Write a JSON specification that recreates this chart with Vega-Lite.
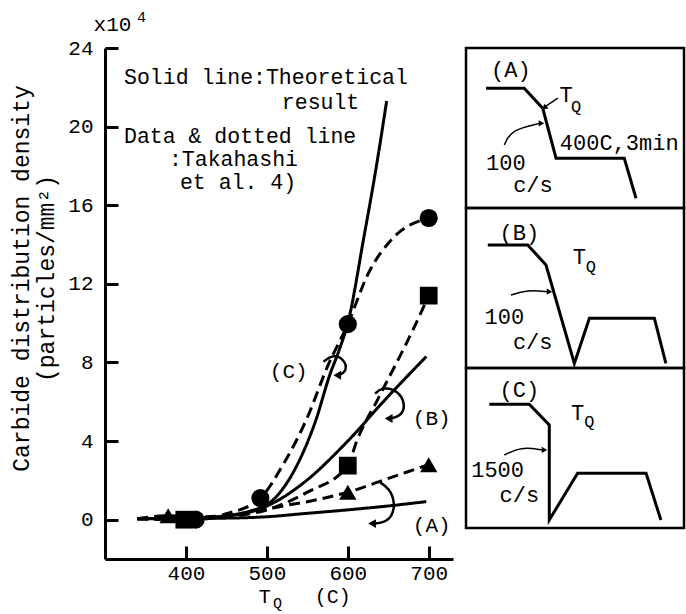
{
  "$schema": "https://vega.github.io/schema/vega-lite/v6.json",
  "background": "white",
  "padding": {"left": 10, "top": 10, "right": 0, "bottom": 0},
  "autosize": {"type": "pad"},
  "config": {
    "view": {"stroke": null},
    "font": "Liberation Mono",
    "text": {"font": "Liberation Mono", "color": "black"}
  },
  "datasets": {
    "curves": [
      {"series": "Theory C", "kind": "Theoretical", "T": 340, "N": 0.05},
      {"series": "Theory C", "kind": "Theoretical", "T": 420, "N": 0.1},
      {"series": "Theory C", "kind": "Theoretical", "T": 480, "N": 0.45},
      {"series": "Theory C", "kind": "Theoretical", "T": 510, "N": 1.1},
      {"series": "Theory C", "kind": "Theoretical", "T": 540, "N": 3.0},
      {"series": "Theory C", "kind": "Theoretical", "T": 560, "N": 5.0},
      {"series": "Theory C", "kind": "Theoretical", "T": 578, "N": 7.4},
      {"series": "Theory C", "kind": "Theoretical", "T": 590, "N": 8.7},
      {"series": "Theory C", "kind": "Theoretical", "T": 600, "N": 10.0},
      {"series": "Theory C", "kind": "Theoretical", "T": 620, "N": 14.4},
      {"series": "Theory C", "kind": "Theoretical", "T": 635, "N": 17.9},
      {"series": "Theory C", "kind": "Theoretical", "T": 648, "N": 21.3},
      {"series": "Theory B", "kind": "Theoretical", "T": 340, "N": 0.05},
      {"series": "Theory B", "kind": "Theoretical", "T": 420, "N": 0.1},
      {"series": "Theory B", "kind": "Theoretical", "T": 480, "N": 0.4},
      {"series": "Theory B", "kind": "Theoretical", "T": 510, "N": 0.9},
      {"series": "Theory B", "kind": "Theoretical", "T": 543, "N": 1.8},
      {"series": "Theory B", "kind": "Theoretical", "T": 600, "N": 4.0},
      {"series": "Theory B", "kind": "Theoretical", "T": 646, "N": 6.1},
      {"series": "Theory B", "kind": "Theoretical", "T": 697, "N": 8.3},
      {"series": "Theory A", "kind": "Theoretical", "T": 340, "N": 0.05},
      {"series": "Theory A", "kind": "Theoretical", "T": 450, "N": 0.08},
      {"series": "Theory A", "kind": "Theoretical", "T": 500, "N": 0.15},
      {"series": "Theory A", "kind": "Theoretical", "T": 543, "N": 0.3},
      {"series": "Theory A", "kind": "Theoretical", "T": 600, "N": 0.5},
      {"series": "Theory A", "kind": "Theoretical", "T": 650, "N": 0.7},
      {"series": "Theory A", "kind": "Theoretical", "T": 697, "N": 0.92},
      {"series": "Data C", "kind": "Takahashi et al.", "T": 340, "N": 0.05},
      {"series": "Data C", "kind": "Takahashi et al.", "T": 412, "N": 0.0},
      {"series": "Data C", "kind": "Takahashi et al.", "T": 450, "N": 0.3},
      {"series": "Data C", "kind": "Takahashi et al.", "T": 492, "N": 1.1},
      {"series": "Data C", "kind": "Takahashi et al.", "T": 520, "N": 2.8},
      {"series": "Data C", "kind": "Takahashi et al.", "T": 550, "N": 5.2},
      {"series": "Data C", "kind": "Takahashi et al.", "T": 575, "N": 7.8},
      {"series": "Data C", "kind": "Takahashi et al.", "T": 600, "N": 9.95},
      {"series": "Data C", "kind": "Takahashi et al.", "T": 625, "N": 12.5},
      {"series": "Data C", "kind": "Takahashi et al.", "T": 655, "N": 14.3},
      {"series": "Data C", "kind": "Takahashi et al.", "T": 700, "N": 15.35},
      {"series": "Data B", "kind": "Takahashi et al.", "T": 340, "N": 0.05},
      {"series": "Data B", "kind": "Takahashi et al.", "T": 398, "N": 0.0},
      {"series": "Data B", "kind": "Takahashi et al.", "T": 450, "N": 0.15},
      {"series": "Data B", "kind": "Takahashi et al.", "T": 500, "N": 0.5},
      {"series": "Data B", "kind": "Takahashi et al.", "T": 550, "N": 1.4},
      {"series": "Data B", "kind": "Takahashi et al.", "T": 600, "N": 2.75},
      {"series": "Data B", "kind": "Takahashi et al.", "T": 611, "N": 4.0},
      {"series": "Data B", "kind": "Takahashi et al.", "T": 638, "N": 6.2},
      {"series": "Data B", "kind": "Takahashi et al.", "T": 681, "N": 9.7},
      {"series": "Data B", "kind": "Takahashi et al.", "T": 700, "N": 11.4},
      {"series": "Data A", "kind": "Takahashi et al.", "T": 340, "N": 0.05},
      {"series": "Data A", "kind": "Takahashi et al.", "T": 378, "N": 0.2},
      {"series": "Data A", "kind": "Takahashi et al.", "T": 420, "N": 0.15},
      {"series": "Data A", "kind": "Takahashi et al.", "T": 470, "N": 0.3},
      {"series": "Data A", "kind": "Takahashi et al.", "T": 520, "N": 0.7},
      {"series": "Data A", "kind": "Takahashi et al.", "T": 560, "N": 1.0},
      {"series": "Data A", "kind": "Takahashi et al.", "T": 600, "N": 1.4},
      {"series": "Data A", "kind": "Takahashi et al.", "T": 650, "N": 2.1},
      {"series": "Data A", "kind": "Takahashi et al.", "T": 700, "N": 2.8}
    ],
    "points": [
      {"cond": "A", "T": 378, "N": 0.2},
      {"cond": "A", "T": 600, "N": 1.4},
      {"cond": "A", "T": 700, "N": 2.8},
      {"cond": "B", "T": 398, "N": 0.0},
      {"cond": "B", "T": 600, "N": 2.75},
      {"cond": "B", "T": 700, "N": 11.4},
      {"cond": "C", "T": 412, "N": 0.0},
      {"cond": "C", "T": 492, "N": 1.1},
      {"cond": "C", "T": 600, "N": 9.95},
      {"cond": "C", "T": 700, "N": 15.35}
    ],
    "curls": [
      {"curl": "C", "i": 1, "T": 570, "N": 8.03},
      {"curl": "C", "i": 2, "T": 580.2, "N": 8.4},
      {"curl": "C", "i": 3, "T": 595.5, "N": 8.2},
      {"curl": "C", "i": 4, "T": 599.5, "N": 7.55},
      {"curl": "C", "i": 5, "T": 588.5, "N": 7.35},
      {"curl": "B", "i": 1, "T": 633.7, "N": 6.41},
      {"curl": "B", "i": 2, "T": 642, "N": 6.75},
      {"curl": "B", "i": 3, "T": 662, "N": 6.6},
      {"curl": "B", "i": 4, "T": 672, "N": 5.81},
      {"curl": "B", "i": 5, "T": 665, "N": 5.25},
      {"curl": "B", "i": 6, "T": 652.2, "N": 5.15},
      {"curl": "A", "i": 1, "T": 639.9, "N": 1.9},
      {"curl": "A", "i": 2, "T": 651, "N": 1.6},
      {"curl": "A", "i": 3, "T": 658.5, "N": 0.9},
      {"curl": "A", "i": 4, "T": 655, "N": 0.15},
      {"curl": "A", "i": 5, "T": 644.1, "N": -0.15},
      {"curl": "A", "i": 6, "T": 631.7, "N": -0.2}
    ],
    "curlTips": [
      {"curl": "C", "T": 587, "N": 7.35},
      {"curl": "B", "T": 650.5, "N": 5.15},
      {"curl": "A", "T": 630, "N": -0.2}
    ],
    "notes": [
      {"text": "Solid line:Theoretical", "T": 323.5, "N": 22.45},
      {"text": "result", "T": 518.5, "N": 21.2},
      {"text": "Data & dotted line", "T": 323.5, "N": 19.45},
      {"text": ":Takahashi", "T": 379, "N": 18.3},
      {"text": "et al. 4)", "T": 392.6, "N": 17.15}
    ],
    "caseLabels": [
      {"text": "(C)", "T": 527, "N": 7.52},
      {"text": "(B)", "T": 703.7, "N": 5.13},
      {"text": "(A)", "T": 703.7, "N": -0.3},
      {"text": "x10", "T": 309.3, "N": 25.17}
    ],
    "axisNames": [
      {"text": "T", "T": 497.5, "N": -3.95},
      {"text": "(C)", "T": 581.5, "N": -3.95}
    ],
    "smallLabels": [
      {"text": "4", "T": 345, "N": 25.57},
      {"text": "Q", "T": 513.0, "N": -4.25}
    ],
    "profiles": [
      {"panel": "A", "i": 1, "t": 9.2, "temp": 74.8},
      {"panel": "A", "i": 2, "t": 26.7, "temp": 74.8},
      {"panel": "A", "i": 3, "t": 35.2, "temp": 62.3},
      {"panel": "A", "i": 4, "t": 41.3, "temp": 31.1},
      {"panel": "A", "i": 5, "t": 72.6, "temp": 31.1},
      {"panel": "A", "i": 6, "t": 78.0, "temp": 6.1},
      {"panel": "B", "i": 1, "t": 10.0, "temp": 76.9},
      {"panel": "B", "i": 2, "t": 28.3, "temp": 76.9},
      {"panel": "B", "i": 3, "t": 36.7, "temp": 64.4},
      {"panel": "B", "i": 4, "t": 49.7, "temp": 2.9},
      {"panel": "B", "i": 5, "t": 56.6, "temp": 31.1},
      {"panel": "B", "i": 6, "t": 86.4, "temp": 31.1},
      {"panel": "B", "i": 7, "t": 91.7, "temp": 2.9},
      {"panel": "C", "i": 1, "t": 10.7, "temp": 77.3},
      {"panel": "C", "i": 2, "t": 29.0, "temp": 77.3},
      {"panel": "C", "i": 3, "t": 38.2, "temp": 64.4},
      {"panel": "C", "i": 4, "t": 38.2, "temp": 5.0},
      {"panel": "C", "i": 5, "t": 51.2, "temp": 34.2},
      {"panel": "C", "i": 6, "t": 82.6, "temp": 34.2},
      {"panel": "C", "i": 7, "t": 89.4, "temp": 5.0}
    ],
    "pointers": [
      {"panel": "A", "arrow": "rate", "i": 1, "t": 17.6, "temp": 39.4},
      {"panel": "A", "arrow": "rate", "i": 2, "t": 20.6, "temp": 48.8},
      {"panel": "A", "arrow": "rate", "i": 3, "t": 33.8, "temp": 52.9},
      {"panel": "A", "arrow": "tq", "i": 1, "t": 42.1, "temp": 68.6},
      {"panel": "A", "arrow": "tq", "i": 2, "t": 36.5, "temp": 63.5},
      {"panel": "B", "arrow": "rate", "i": 1, "t": 20.6, "temp": 45.6},
      {"panel": "B", "arrow": "rate", "i": 2, "t": 28.3, "temp": 48.8},
      {"panel": "B", "arrow": "rate", "i": 3, "t": 37.5, "temp": 47.7},
      {"panel": "C", "arrow": "rate", "i": 1, "t": 17.6, "temp": 45.6},
      {"panel": "C", "arrow": "rate", "i": 2, "t": 25.2, "temp": 50.8},
      {"panel": "C", "arrow": "rate", "i": 3, "t": 35.2, "temp": 48.8}
    ],
    "pointerTips": [
      {"panel": "A", "arrow": "rate", "t": 34.6, "temp": 52.9},
      {"panel": "B", "arrow": "rate", "t": 38.3, "temp": 47.7},
      {"panel": "C", "arrow": "rate", "t": 36.0, "temp": 48.8}
    ],
    "tqTips": [
      {"panel": "A", "t": 36.0, "temp": 62.6}
    ],
    "insetText": [
      {"panel": "A", "text": "(A)", "t": 20.6, "temp": 86.3},
      {"panel": "A", "text": "T", "t": 45.9, "temp": 70.6},
      {"panel": "A", "text": "400C,3min", "t": 70.3, "temp": 40.4},
      {"panel": "A", "text": "100", "t": 18.3, "temp": 27.9},
      {"panel": "A", "text": "c/s", "t": 30.7, "temp": 14.4},
      {"panel": "B", "text": "(B)", "t": 24.5, "temp": 84.2},
      {"panel": "B", "text": "T", "t": 52.0, "temp": 69.6},
      {"panel": "B", "text": "100", "t": 17.6, "temp": 32.1},
      {"panel": "B", "text": "c/s", "t": 30.6, "temp": 16.4},
      {"panel": "C", "text": "(C)", "t": 24.5, "temp": 86.3},
      {"panel": "C", "text": "T", "t": 51.2, "temp": 71.7},
      {"panel": "C", "text": "1500", "t": 14.5, "temp": 36.3},
      {"panel": "C", "text": "c/s", "t": 24.5, "temp": 20.6}
    ],
    "insetSub": [
      {"panel": "A", "text": "Q", "t": 50.5, "temp": 63.3},
      {"panel": "B", "text": "Q", "t": 57.3, "temp": 63.3},
      {"panel": "C", "text": "Q", "t": 56.6, "temp": 66.4}
    ]
  },
  "hconcat": [
    {
      "width": 348,
      "height": 511,
      "encoding": {
        "x": {
          "field": "T", "type": "quantitative",
          "scale": {"domain": [300, 730], "nice": false, "zero": false},
          "axis": {
            "values": [400, 500, 600, 700], "title": null, "grid": false,
            "domainColor": "black", "domainWidth": 3, "tickColor": "black", "tickWidth": 3, "tickSize": -13,
            "labelFont": "Liberation Mono", "labelFontSize": 21, "labelColor": "black", "labelPadding": 16,
            "labelFlush": false, "labelOverlap": false
          }
        },
        "y": {
          "field": "N", "type": "quantitative",
          "scale": {"domain": [-2, 24], "nice": false, "zero": false},
          "axis": {
            "values": [0, 4, 8, 12, 16, 20, 24], "grid": false,
            "title": ["Carbide distribution density", "(particles/mm²)"],
            "titleFont": "Liberation Mono", "titleFontSize": 23, "titleFontWeight": "normal", "titleColor": "black",
            "titleLineHeight": 25, "titlePadding": 9, "titleY": 230,
            "domainColor": "black", "domainWidth": 3, "tickColor": "black", "tickWidth": 3, "tickSize": -13,
            "labelFont": "Liberation Mono", "labelFontSize": 21, "labelColor": "black", "labelPadding": 25,
            "labelFlush": false, "labelOverlap": false
          }
        }
      },
      "layer": [
        {
          "data": {"name": "curves"},
          "mark": {"type": "line", "interpolate": "monotone", "strokeWidth": 3, "color": "black"},
          "encoding": {
            "detail": {"field": "series"},
            "strokeDash": {"field": "kind", "type": "nominal", "legend": null,
              "scale": {"domain": ["Theoretical", "Takahashi et al."], "range": [[1, 0], [11, 6]]}}
          }
        },
        {
          "data": {"name": "points"},
          "mark": {"type": "point", "filled": true, "color": "black", "opacity": 1},
          "encoding": {
            "shape": {"field": "cond", "type": "nominal", "legend": null,
              "scale": {"domain": ["A", "B", "C"], "range": ["triangle-up", "square", "circle"]}},
            "size": {"field": "cond", "type": "nominal", "legend": null,
              "scale": {"domain": ["A", "B", "C"], "range": [300, 330, 480]}}
          }
        },
        {
          "data": {"name": "curls"},
          "mark": {"type": "line", "interpolate": "basis", "strokeWidth": 2.5, "color": "black"},
          "encoding": {"detail": {"field": "curl"}, "order": {"field": "i"}}
        },
        {
          "data": {"name": "curlTips"},
          "mark": {"type": "point", "shape": "triangle-left", "filled": true, "color": "black", "size": 80, "opacity": 1}
        },
        {
          "data": {"name": "notes"},
          "mark": {"type": "text", "align": "left", "baseline": "middle", "fontSize": 21.5, "font": "Liberation Mono"},
          "encoding": {"text": {"field": "text"}}
        },
        {
          "data": {"name": "caseLabels"},
          "mark": {"type": "text", "align": "center", "baseline": "middle", "fontSize": 21, "font": "Liberation Mono"},
          "encoding": {"text": {"field": "text"}}
        },
        {
          "data": {"name": "axisNames"},
          "mark": {"type": "text", "align": "center", "baseline": "middle", "fontSize": 20, "font": "Liberation Mono"},
          "encoding": {"text": {"field": "text"}}
        },
        {
          "data": {"name": "smallLabels"},
          "mark": {"type": "text", "align": "center", "baseline": "middle", "fontSize": 15, "font": "Liberation Mono"},
          "encoding": {"text": {"field": "text"}}
        }
      ]
    },
    {
      "spacing": 0,
      "bounds": "flush",
      "vconcat": [
        {
          "width": 218, "height": 160,
          "view": {"stroke": "black", "strokeWidth": 2.5},
          "encoding": {
            "x": {"field": "t", "type": "quantitative", "scale": {"domain": [0, 100], "nice": false}, "axis": null},
            "y": {"field": "temp", "type": "quantitative", "scale": {"domain": [0, 100], "nice": false}, "axis": null}
          },
          "layer": [
            {"data": {"name": "profiles"}, "transform": [{"filter": "datum.panel === 'A'"}],
              "mark": {"type": "line", "strokeWidth": 3, "color": "black"}, "encoding": {"order": {"field": "i"}}},
            {"data": {"name": "pointers"}, "transform": [{"filter": "datum.panel === 'A'"}],
              "mark": {"type": "line", "strokeWidth": 1.5, "color": "black", "interpolate": "basis"},
              "encoding": {"detail": {"field": "arrow"}, "order": {"field": "i"}}},
            {"data": {"name": "pointerTips"}, "transform": [{"filter": "datum.panel === 'A'"}],
              "mark": {"type": "point", "shape": "triangle-right", "filled": true, "color": "black", "size": 40, "opacity": 1}},
            {"data": {"name": "tqTips"}, "transform": [{"filter": "datum.panel === 'A'"}],
              "mark": {"type": "point", "shape": "triangle-up", "angle": 225, "filled": true, "color": "black", "size": 40, "opacity": 1}},
            {"data": {"name": "insetText"}, "transform": [{"filter": "datum.panel === 'A'"}],
              "mark": {"type": "text", "fontSize": 22, "font": "Liberation Mono", "baseline": "middle"},
              "encoding": {"text": {"field": "text"}}},
            {"data": {"name": "insetSub"}, "transform": [{"filter": "datum.panel === 'A'"}],
              "mark": {"type": "text", "fontSize": 17, "font": "Liberation Mono", "baseline": "middle"},
              "encoding": {"text": {"field": "text"}}}
          ]
        },
        {
          "width": 218, "height": 160,
          "view": {"stroke": "black", "strokeWidth": 2.5},
          "encoding": {
            "x": {"field": "t", "type": "quantitative", "scale": {"domain": [0, 100], "nice": false}, "axis": null},
            "y": {"field": "temp", "type": "quantitative", "scale": {"domain": [0, 100], "nice": false}, "axis": null}
          },
          "layer": [
            {"data": {"name": "profiles"}, "transform": [{"filter": "datum.panel === 'B'"}],
              "mark": {"type": "line", "strokeWidth": 3, "color": "black"}, "encoding": {"order": {"field": "i"}}},
            {"data": {"name": "pointers"}, "transform": [{"filter": "datum.panel === 'B'"}],
              "mark": {"type": "line", "strokeWidth": 1.5, "color": "black", "interpolate": "basis"},
              "encoding": {"detail": {"field": "arrow"}, "order": {"field": "i"}}},
            {"data": {"name": "pointerTips"}, "transform": [{"filter": "datum.panel === 'B'"}],
              "mark": {"type": "point", "shape": "triangle-right", "filled": true, "color": "black", "size": 40, "opacity": 1}},
            {"data": {"name": "insetText"}, "transform": [{"filter": "datum.panel === 'B'"}],
              "mark": {"type": "text", "fontSize": 22, "font": "Liberation Mono", "baseline": "middle"},
              "encoding": {"text": {"field": "text"}}},
            {"data": {"name": "insetSub"}, "transform": [{"filter": "datum.panel === 'B'"}],
              "mark": {"type": "text", "fontSize": 17, "font": "Liberation Mono", "baseline": "middle"},
              "encoding": {"text": {"field": "text"}}}
          ]
        },
        {
          "width": 218, "height": 160,
          "view": {"stroke": "black", "strokeWidth": 2.5},
          "encoding": {
            "x": {"field": "t", "type": "quantitative", "scale": {"domain": [0, 100], "nice": false}, "axis": null},
            "y": {"field": "temp", "type": "quantitative", "scale": {"domain": [0, 100], "nice": false}, "axis": null}
          },
          "layer": [
            {"data": {"name": "profiles"}, "transform": [{"filter": "datum.panel === 'C'"}],
              "mark": {"type": "line", "strokeWidth": 3, "color": "black"}, "encoding": {"order": {"field": "i"}}},
            {"data": {"name": "pointers"}, "transform": [{"filter": "datum.panel === 'C'"}],
              "mark": {"type": "line", "strokeWidth": 1.5, "color": "black", "interpolate": "basis"},
              "encoding": {"detail": {"field": "arrow"}, "order": {"field": "i"}}},
            {"data": {"name": "pointerTips"}, "transform": [{"filter": "datum.panel === 'C'"}],
              "mark": {"type": "point", "shape": "triangle-right", "filled": true, "color": "black", "size": 40, "opacity": 1}},
            {"data": {"name": "insetText"}, "transform": [{"filter": "datum.panel === 'C'"}],
              "mark": {"type": "text", "fontSize": 22, "font": "Liberation Mono", "baseline": "middle"},
              "encoding": {"text": {"field": "text"}}},
            {"data": {"name": "insetSub"}, "transform": [{"filter": "datum.panel === 'C'"}],
              "mark": {"type": "text", "fontSize": 17, "font": "Liberation Mono", "baseline": "middle"},
              "encoding": {"text": {"field": "text"}}}
          ]
        }
      ]
    }
  ],
  "spacing": 13,
  "bounds": "flush"
}
